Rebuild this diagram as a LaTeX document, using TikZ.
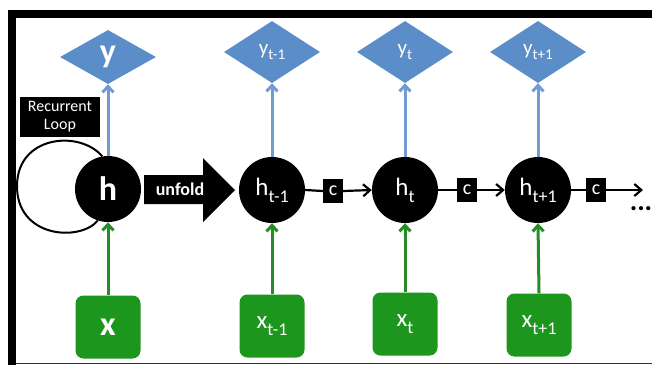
\documentclass[tikz,border=0pt]{standalone}
\usepackage{fontspec}
\setmainfont{Carlito}
\usetikzlibrary{shapes.geometric,arrows.meta}
\definecolor{diafill}{RGB}{91,141,200}
\definecolor{bluearr}{RGB}{112,156,210}
\definecolor{greenfill}{RGB}{28,150,28}
\definecolor{greenarr}{RGB}{38,140,38}
\newcommand\subl[4]{\fontsize{#1}{#1}\selectfont #3\raisebox{-0.28em}{\fontsize{#2}{#2}\selectfont #4}}
\newcommand\boldlbl[2]{\fontsize{#1}{#1}\selectfont\bfseries #2}
\begin{document}
\begin{tikzpicture}[x=1pt,y=-1pt,
  hnode/.style={circle, fill=black, minimum size=66pt, inner sep=0pt, text=white},
  ynode/.style={diamond, fill=diafill, aspect=1.5, minimum width=96pt, minimum height=62pt, inner sep=0pt, text=white},
  xnode/.style={rounded corners=8pt, fill=greenfill, minimum width=65pt, minimum height=63pt, inner sep=0pt, text=white},
  cnode/.style={fill=black, minimum width=20pt, minimum height=24pt, inner sep=0pt, text=white, font=\fontsize{20}{20}\selectfont},
  barrow/.style={draw=bluearr, line width=3pt, -{Straight Barb[length=6pt,width=11pt]}},
  garrow/.style={draw=greenarr, line width=3pt, -{Straight Barb[length=6pt,width=11pt]}},
  cline/.style={draw=black, line width=2.2pt},
  carrow/.style={draw=black, line width=2.2pt, -{Straight Barb[length=7pt,width=12pt]}}
]
\useasboundingbox (0,0) rectangle (652,365);
\fill[white] (0,0) rectangle (652,365);
% frame
\fill[black] (8,10) rectangle (652,18);
\fill[black] (8,10) rectangle (16,365);
\fill[black!80] (16,362.5) rectangle (652,364);

% folded
\node[ynode, minimum height=54pt] (y) at (108,57) {\boldlbl{34}{y}};
\node[hnode] (h) at (108,189) {\boldlbl{34}{h}};
\node[xnode] (x) at (108,327) {\boldlbl{34}{x}};
\node[fill=black, text=white, minimum width=80pt, minimum height=40pt, inner sep=0pt, align=center, font=\fontsize{16}{18}\selectfont] (rl) at (60,117) {Recurrent\\Loop};
\draw[line width=2pt] (h.100) .. controls (80,130) and (18,135) .. (17,185) .. controls (16,238) and (80,242) .. (h.252);

% unfold arrow
\fill[black] (144,175) -- (203,175) -- (203,158) -- (235,190) -- (203,222) -- (203,204) -- (144,204) -- cycle;
\node[text=white, font=\bfseries\fontsize{18}{18}\selectfont] (unf) at (180,189) {unfold};

% unfolded
\node[ynode] (y1) at (272,52) {\subl{21}{15}{y}{t-1}};
\node[ynode] (y2) at (405,52) {\subl{21}{15}{y}{t}};
\node[ynode] (y3) at (538,52) {\subl{21}{15}{y}{t+1}};
\node[hnode] (h1) at (272,190) {\subl{25}{18}{h}{t-1}};
\node[hnode] (h2) at (405,190) {\subl{25}{18}{h}{t}};
\node[hnode] (h3) at (538,190) {\subl{25}{18}{h}{t+1}};
\node[xnode] (x1) at (272,326) {\subl{25}{18}{x}{t-1}};
\node[xnode] (x2) at (405,324) {\subl{25}{18}{x}{t}};
\node[xnode] (x3) at (539,325) {\subl{25}{18}{x}{t+1}};
\node[cnode] (c1) at (333,191) {c};
\node[cnode] (c2) at (467,190) {c};
\node[cnode] (c3) at (596,190) {c};
\coordinate (end) at (643,190);
\node[font=\bfseries\fontsize{28}{28}\selectfont, inner sep=0pt] (dots) at (641,209) {...};

% connectors
\draw[barrow] (h.north) -- (y.south);
\draw[garrow] (x.north) -- (h.south);
\draw[barrow] (h1.north) -- (y1.south);
\draw[barrow] (h2.north) -- (y2.south);
\draw[barrow] (h3.north) -- (y3.south);
\draw[garrow] (x1.north) -- (h1.south);
\draw[garrow] (x2.north) -- (h2.south);
\draw[garrow] (x3.north) -- (h3.south);
\draw[cline] (h1.east) -- (c1.west);
\draw[carrow] (c1.east) -- (h2.west);
\draw[cline] (h2.east) -- (c2.west);
\draw[carrow] (c2.east) -- (h3.west);
\draw[cline] (h3.east) -- (c3.west);
\draw[carrow] (c3.east) -- (end);
\end{tikzpicture}
\end{document}
